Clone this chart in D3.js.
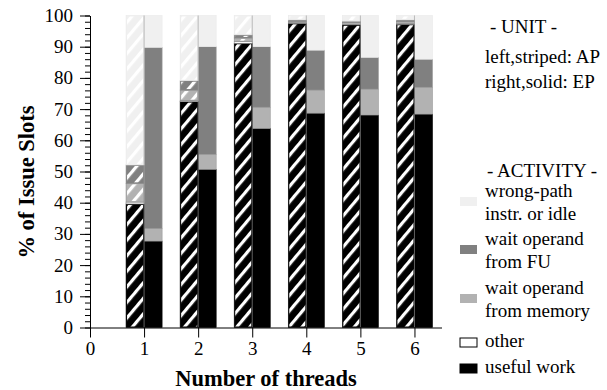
<!DOCTYPE html>
<html>
<head>
<meta charset="utf-8">
<script src="https://cdn.jsdelivr.net/npm/d3@7"></script>
<style>
  body { margin: 0; background: #fff; }
  svg { display: block; font-family: "Liberation Serif", "Times New Roman", serif; }
</style>
</head>
<body>
<svg id="chart" width="607" height="390"></svg>
<script>
// number of threads on the x axis
const threads = [1, 2, 3, 4, 5, 6];

// activity categories, stacked from bottom to top
const activities = ["useful", "other", "memory", "fu", "wrong"];

// AP unit (left, striped bars), % of issue slots
const apUseful = [39.6, 72.4, 91.1, 97.5, 97.0, 97.2];
const apOther  = [0.6, 0.3, 0.5, 0.2, 0.2, 0.2];
const apMemory = [6.0, 3.4, 1.2, 0.4, 0.5, 0.6];
const apFU     = [5.9, 3.0, 1.0, 0.5, 0.5, 0.6];
const apWrong  = [47.9, 20.9, 6.2, 1.4, 1.8, 1.4];

// EP unit (right, solid bars), % of issue slots
const epUseful = [27.7, 50.7, 63.8, 68.7, 68.1, 68.4];
const epOther  = [0, 0, 0, 0, 0, 0];
const epMemory = [4.0, 4.8, 6.8, 7.4, 8.3, 8.6];
const epFU     = [58.1, 34.5, 19.4, 12.8, 10.2, 9.0];
const epWrong  = [10.2, 10.0, 10.0, 11.1, 13.4, 14.0];

const yTicks = [0, 10, 20, 30, 40, 50, 60, 70, 80, 90, 100];
const xTicks = [0, 1, 2, 3, 4, 5, 6];

// legend entries (top to bottom)
const legendLines = [
  { key: "wrong", lines: ["wrong-path", "instr. or idle"] },
  { key: "fu", lines: ["wait operand", "from FU"] },
  { key: "memory", lines: ["wait operand", "from memory"] },
  { key: "other", lines: ["other"] },
  { key: "useful", lines: ["useful work"] }
];

const colors = {
  useful: "#000000",
  other: "#ffffff",
  memory: "#b2b2b2",
  fu: "#808080",
  wrong: "#f0f0f0"
};

const svg = d3.select("#chart");

// scales
const x = d3.scaleLinear().domain([0, 6.5]).range([90, 441.5]);
const y = d3.scaleLinear().domain([0, 100]).range([327.5, 15.5]);
const barW = x(1 / 3) - x(0);

// stripe pattern (white diagonal lines on transparent)
const defs = svg.append("defs");
const pat = defs.append("pattern")
    .attr("id", "stripes")
    .attr("patternUnits", "userSpaceOnUse")
    .attr("width", 10).attr("height", 10)
    .attr("patternTransform", "rotate(40)");
pat.append("rect").attr("x", 0).attr("y", 0)
    .attr("width", 3.2).attr("height", 10)
    .attr("fill", "#fff");

// build stacked segments for one unit
function stackUnit(vals, unit) {
  const segs = [];
  threads.forEach((t, i) => {
    let base = 0;
    activities.forEach((a, k) => {
      const v = vals[k][i];
      segs.push({ t: t, act: a, unit: unit, y0: base, y1: base + v });
      base += v;
    });
  });
  return segs;
}

const apSegs = stackUnit([apUseful, apOther, apMemory, apFU, apWrong], "AP");
const epSegs = stackUnit([epUseful, epOther, epMemory, epFU, epWrong], "EP");

const gBars = svg.append("g");

// EP bars (solid)
gBars.selectAll("rect.ep")
  .data(epSegs.filter(d => d.y1 > d.y0))
  .join("rect")
    .attr("class", "ep")
    .attr("x", d => x(d.t))
    .attr("y", d => y(d.y1))
    .attr("width", barW)
    .attr("height", d => y(d.y0) - y(d.y1))
    .attr("fill", d => colors[d.act])
    .attr("stroke", d => d.act == "useful" ? "#000" : (d.act == "wrong" ? "#eaeaea" : "#9a9a9a"))
    .attr("stroke-width", 0.6);

// AP bars (base colour)
gBars.selectAll("rect.ap")
  .data(apSegs.filter(d => d.y1 > d.y0))
  .join("rect")
    .attr("class", "ap")
    .attr("x", d => x(d.t) - barW)
    .attr("y", d => y(d.y1))
    .attr("width", barW)
    .attr("height", d => y(d.y0) - y(d.y1))
    .attr("fill", d => colors[d.act])
    .attr("stroke", d => d.act == "useful" ? "#000" : (d.act == "wrong" ? "#eaeaea" : "#8a8a8a"))
    .attr("stroke-width", 0.6);

// AP stripes overlay
gBars.selectAll("rect.apstripe")
  .data(apSegs.filter(d => d.y1 > d.y0))
  .join("rect")
    .attr("class", "apstripe")
    .attr("x", d => x(d.t) - barW + 1)
    .attr("y", d => y(d.y1) + 1)
    .attr("width", barW - 2)
    .attr("height", d => Math.max(0, y(d.y0) - y(d.y1) - 2))
    .attr("fill", "url(#stripes)");

// divider between AP and EP bars
gBars.selectAll("line.div")
  .data(threads)
  .join("line")
    .attr("x1", d => x(d)).attr("x2", d => x(d))
    .attr("y1", y(0)).attr("y2", y(100))
    .attr("stroke", "#999").attr("stroke-width", 0.6);

// y axis, minor ticks
svg.append("g")
    .attr("transform", `translate(${x(0)},0)`)
    .call(d3.axisLeft(y).tickValues(d3.range(0, 101, 2)).tickSize(5).tickFormat(""))
    .call(g => g.select(".domain").remove())
    .call(g => g.selectAll("line").attr("stroke", "#000"));

// y axis, major ticks
svg.append("g")
    .attr("transform", `translate(${x(0)},0)`)
    .call(d3.axisLeft(y).tickValues(yTicks).tickSize(10).tickSizeOuter(0).tickPadding(7))
    .call(g => g.select(".domain").attr("stroke", "#000"))
    .call(g => g.selectAll("line").attr("stroke", "#000"))
    .call(g => g.selectAll("text")
        .attr("font-family", "Liberation Serif")
        .attr("font-size", 19)
        .attr("fill", "#000"));

// x axis
svg.append("g")
    .attr("transform", `translate(0,${y(0)})`)
    .call(d3.axisBottom(x).tickValues(xTicks).tickFormat(d3.format("d"))
        .tickSize(10).tickSizeOuter(0).tickPadding(4))
    .call(g => g.select(".domain").attr("stroke", "#000"))
    .call(g => g.selectAll("line").attr("stroke", "#000"))
    .call(g => g.selectAll("text")
        .attr("font-family", "Liberation Serif")
        .attr("font-size", 19)
        .attr("fill", "#000"));

// axis titles
svg.append("text")
    .attr("x", 266).attr("y", 386)
    .attr("text-anchor", "middle")
    .attr("font-family", "Liberation Serif")
    .attr("font-size", 22.5)
    .attr("font-weight", "bold")
    .text("Number of threads");

svg.append("text")
    .attr("transform", "translate(34,182) rotate(-90)")
    .attr("text-anchor", "middle")
    .attr("font-family", "Liberation Serif")
    .attr("font-size", 22.5)
    .attr("font-weight", "bold")
    .text("% of Issue Slots");

// legend: unit
const legend = svg.append("g")
    .attr("font-family", "Liberation Serif")
    .attr("font-size", 19).attr("fill", "#000");
legend.append("text").attr("x", 490).attr("y", 33).text("- UNIT -");
legend.append("text").attr("x", 485).attr("y", 63).text("left,striped: AP");
legend.append("text").attr("x", 485).attr("y", 88).text("right,solid: EP");
legend.append("text").attr("x", 487).attr("y", 177).text("- ACTIVITY -");

// legend: activities
const legendY = [197, 245, 294, 347, 373];
const lg = legend.selectAll("g.item")
  .data(legendLines)
  .join("g")
    .attr("class", "item")
    .attr("transform", (d, i) => `translate(0,${legendY[i]})`);

lg.append("rect")
    .attr("x", 460)
    .attr("y", d => d.lines.length > 1 ? 0 : -9)
    .attr("width", 17).attr("height", 9)
    .attr("fill", d => colors[d.key])
    .attr("stroke", d => (d.key == "other" || d.key == "useful") ? "#000" : "none")
    .attr("stroke-width", 1);

lg.selectAll("text")
  .data(d => d.lines)
  .join("text")
    .attr("x", 485)
    .attr("y", (d, i) => i * 23)
    .text(d => d);
</script>
</body>
</html>
